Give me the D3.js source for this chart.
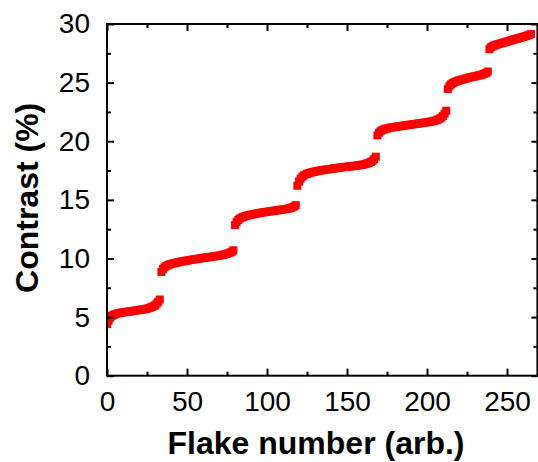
<!DOCTYPE html>
<html>
<head>
<meta charset="utf-8">
<script src="https://cdn.jsdelivr.net/npm/d3@7"></script>
<style>
  html, body { margin: 0; padding: 0; background: #fff; }
  svg { display: block; }
</style>
</head>
<body>
<svg id="chart" width="538" height="462"></svg>
<script>
// Contrast (%) of each flake, sorted; flake number = position in the list (0-based)
const seg1 = [4.4, 4.7, 4.95, 5.1, 5.18, 5.24, 5.28, 5.32, 5.35, 5.38, 5.4, 5.42, 5.44, 5.46, 5.48, 5.5, 5.52, 5.54, 5.56, 5.58, 5.6, 5.62, 5.64, 5.66, 5.69, 5.72, 5.76, 5.8, 5.86, 5.93, 6.0, 6.15, 6.3, 6.5];
const seg2 = [8.85, 9.1, 9.25, 9.35, 9.42, 9.48, 9.52, 9.56, 9.6, 9.63, 9.66, 9.69, 9.72, 9.75, 9.77, 9.8, 9.82, 9.85, 9.87, 9.89, 9.92, 9.94, 9.96, 9.98, 10.0, 10.02, 10.04, 10.06, 10.08, 10.1, 10.12, 10.14, 10.16, 10.18, 10.2, 10.22, 10.24, 10.27, 10.3, 10.33, 10.36, 10.4, 10.45, 10.5, 10.58, 10.7];
const seg3 = [12.85, 13.1, 13.28, 13.4, 13.48, 13.54, 13.59, 13.63, 13.67, 13.7, 13.73, 13.76, 13.79, 13.82, 13.84, 13.87, 13.89, 13.92, 13.94, 13.96, 13.98, 14.0, 14.02, 14.04, 14.06, 14.08, 14.1, 14.12, 14.14, 14.16, 14.18, 14.2, 14.22, 14.25, 14.28, 14.32, 14.37, 14.44, 14.55];
const seg4 = [16.2, 16.55, 16.8, 16.97, 17.08, 17.16, 17.22, 17.27, 17.31, 17.35, 17.38, 17.41, 17.44, 17.47, 17.5, 17.52, 17.54, 17.56, 17.58, 17.6, 17.62, 17.64, 17.66, 17.68, 17.7, 17.72, 17.74, 17.76, 17.78, 17.8, 17.81, 17.83, 17.84, 17.86, 17.87, 17.89, 17.9, 17.92, 17.94, 17.96, 17.98, 18.01, 18.04, 18.08, 18.12, 18.17, 18.24, 18.33, 18.48, 18.68];
const seg5 = [20.5, 20.72, 20.85, 20.94, 21.0, 21.05, 21.09, 21.12, 21.15, 21.18, 21.2, 21.22, 21.24, 21.26, 21.28, 21.3, 21.32, 21.34, 21.36, 21.38, 21.4, 21.42, 21.44, 21.46, 21.48, 21.5, 21.52, 21.54, 21.56, 21.58, 21.6, 21.62, 21.64, 21.66, 21.69, 21.72, 21.76, 21.8, 21.86, 21.93, 22.02, 22.15, 22.35, 22.6];
const seg6 = [24.45, 24.7, 24.85, 24.95, 25.02, 25.08, 25.13, 25.18, 25.22, 25.26, 25.3, 25.34, 25.38, 25.42, 25.45, 25.48, 25.51, 25.54, 25.57, 25.6, 25.63, 25.67, 25.71, 25.76, 25.83, 25.95];
const seg7 = [27.85, 28.02, 28.1, 28.16, 28.21, 28.26, 28.3, 28.34, 28.38, 28.42, 28.46, 28.5, 28.54, 28.58, 28.62, 28.66, 28.7, 28.74, 28.78, 28.82, 28.86, 28.9, 28.94, 28.98, 29.03, 29.08, 29.14];
const contrast = [].concat(seg1, seg2, seg3, seg4, seg5, seg6, seg7);

const xTicks = [0, 50, 100, 150, 200, 250];
const xMinorTicks = [25, 75, 125, 175, 225];
const yTicks = [0, 5, 10, 15, 20, 25, 30];
const yMinorTicks = [2.5, 7.5, 12.5, 17.5, 22.5, 27.5];
const xDomain = [0, 269];
const yDomain = [0, 30];
const xTitle = "Flake number (arb.)";
const yTitle = "Contrast (%)";

const svg = d3.select("#chart");
const L = 107, R = 537.4, T = 24, B = 375.7;
const x = d3.scaleLinear().domain(xDomain).range([L, R]);
const y = d3.scaleLinear().domain(yDomain).range([B, T]);

svg.append("defs").append("clipPath").attr("id", "plotclip")
  .append("rect").attr("x", L).attr("y", T).attr("width", R - L).attr("height", B - T);

const ms = 8;
svg.append("g").attr("clip-path", "url(#plotclip)")
  .selectAll("rect").data(contrast).join("rect")
  .attr("x", (d, i) => x(i) - ms / 2)
  .attr("y", d => y(d) - ms / 2)
  .attr("width", ms).attr("height", ms)
  .attr("fill", "#ff0000");

const font = "'Liberation Sans', Arial, Helvetica, sans-serif";

function styleAxis(g) {
  g.select(".domain").remove();
  g.selectAll(".tick line").attr("stroke", "#000").attr("stroke-width", 2);
}

// bottom axis with labels (inward ticks)
const gx = svg.append("g").attr("transform", `translate(0,${B})`)
  .call(d3.axisBottom(x).tickValues(xTicks).tickSizeInner(-7).tickSizeOuter(0).tickPadding(15).tickFormat(d3.format("d")));
styleAxis(gx);
gx.selectAll(".tick text").attr("font-family", font).attr("font-size", 28).attr("fill", "#000").attr("dy", "0.71em");
svg.append("g").attr("transform", `translate(0,${B})`)
  .call(d3.axisBottom(x).tickValues(xMinorTicks).tickSizeInner(-4).tickSizeOuter(0).tickFormat(""))
  .call(styleAxis);

// top axis ticks only
svg.append("g").attr("transform", `translate(0,${T})`)
  .call(d3.axisTop(x).tickValues(xTicks).tickSizeInner(-7).tickSizeOuter(0).tickFormat(""))
  .call(styleAxis);
svg.append("g").attr("transform", `translate(0,${T})`)
  .call(d3.axisTop(x).tickValues(xMinorTicks).tickSizeInner(-4).tickSizeOuter(0).tickFormat(""))
  .call(styleAxis);

// left axis with labels
const gy = svg.append("g").attr("transform", `translate(${L},0)`)
  .call(d3.axisLeft(y).tickValues(yTicks).tickSizeInner(-7).tickSizeOuter(0).tickPadding(17).tickFormat(d3.format("d")));
styleAxis(gy);
gy.selectAll(".tick text").attr("font-family", font).attr("font-size", 28).attr("fill", "#000");
svg.append("g").attr("transform", `translate(${L},0)`)
  .call(d3.axisLeft(y).tickValues(yMinorTicks).tickSizeInner(-4).tickSizeOuter(0).tickFormat(""))
  .call(styleAxis);

// right axis ticks only
svg.append("g").attr("transform", `translate(${R},0)`)
  .call(d3.axisRight(y).tickValues(yTicks).tickSizeInner(-6).tickSizeOuter(0).tickFormat(""))
  .call(styleAxis);
svg.append("g").attr("transform", `translate(${R},0)`)
  .call(d3.axisRight(y).tickValues(yMinorTicks).tickSizeInner(-4).tickSizeOuter(0).tickFormat(""))
  .call(styleAxis);

// frame
svg.append("rect").attr("x", L).attr("y", T).attr("width", R - L).attr("height", B - T)
  .attr("fill", "none").attr("stroke", "#000").attr("stroke-width", 2);

// titles
svg.append("text").attr("x", 316).attr("y", 454).attr("text-anchor", "middle")
  .attr("font-family", font).attr("font-weight", "bold").attr("font-size", 32).attr("fill", "#000")
  .text(xTitle);
svg.append("text").attr("transform", `translate(38,${(T + B) / 2 - 2}) rotate(-90)`).attr("text-anchor", "middle")
  .attr("font-family", font).attr("font-weight", "bold").attr("font-size", 32).attr("fill", "#000")
  .text(yTitle);
</script>
</body>
</html>
